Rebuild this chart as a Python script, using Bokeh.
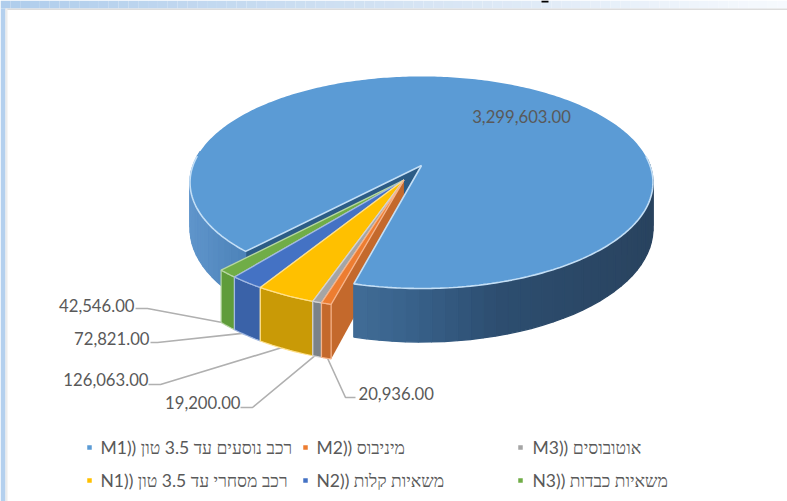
import math
from bokeh.plotting import figure
from bokeh.models import Range1d
from bokeh.core.properties import value
from bokeh.embed import file_html
from bokeh.resources import INLINE

# ---- data
categories = ["M1", "M2", "M3", "N1", "N2", "N3"]
legend_names = ["רכב נוסעים עד 3.5 טון ((M1", "מיניבוס ((M2", "אוטובוסים ((M3",
                "רכב מסחרי עד 3.5 טון ((N1", "משאיות קלות ((N2", "משאיות כבדות ((N3"]
values = [3299603, 20936, 19200, 126063, 72821, 42546]
value_labels = ["3,299,603.00", "20,936.00", "19,200.00", "126,063.00", "72,821.00", "42,546.00"]

# ---- style
top_colors = ["#5b9bd5", "#ed7d31", "#a5a5a5", "#ffc000", "#4472c4", "#70ad47"]
rim_colors = ["#c4dff6", "#f6b48a", "#d2d2d2", "#ffe08a", "#a2b9e2", "#b7d6a3"]
side_colors = [None, "#c4692c", "#7b8288", "#c99a06", "#3a62a8", "#5f9c3a"]
TEXT = "#595959"
FONT = "Lato"

# ---- layout of the 3D projection
CX, CY, A, B, C, DEPTH = 421.0, 165.0, 228.5, 103.3, 0.16, 45.0
START = 42.8          # degrees clockwise from the front where M1 begins
EXPLODE = 0.157


def proj(u, v, drop=0.0):
    w = 1 - C * v
    return CX + A * u / w, CY + B * v / w + drop * DEPTH / w


def disk(phi):
    r = math.radians(phi)
    return -math.sin(r), math.cos(r)


def shade(stops, t):
    if t <= stops[0][0]:
        return stops[0][1]
    for (a, ca), (b, cb) in zip(stops, stops[1:]):
        if a <= t <= b:
            f = (t - a) / (b - a)
            rgb = [round(int(ca[i:i + 2], 16) * (1 - f) + int(cb[i:i + 2], 16) * f) for i in (1, 3, 5)]
            return "#%02x%02x%02x" % tuple(rgb)
    return stops[-1][1]


total = sum(values)
spans = [x / total * 360 for x in values]
bounds = [START]
for s in spans:
    bounds.append(bounds[-1] + s)

p = figure(width=787, height=501, output_backend="svg", toolbar_location=None,
           x_range=Range1d(0, 787), y_range=Range1d(501, 0), min_border=0,
           outline_line_color=None, background_fill_color="white",
           border_fill_color="white")
p.xaxis.visible = False
p.yaxis.visible = False
p.grid.visible = False

# ---- window frame behind the chart
n = 80
xs = [787 * i / n for i in range(n + 1)]
p.quad(left=xs[:-1], right=xs[1:], top=[0] * n, bottom=[8] * n, line_color=None,
       fill_color=[shade([(0, "#afcdec"), (0.5, "#d4e3f3"), (1, "#f7fafe")], i / n) for i in range(n)])
p.quad(left=[0], right=[5], top=[8], bottom=[501], fill_color="#b4d0ee", line_color=None)
p.quad(left=[5], right=[787], top=[8], bottom=[9.5], fill_color="#dcdcdc", line_color=None)
p.quad(left=[5], right=[7], top=[8], bottom=[501], fill_color="#ececec", line_color=None)
p.quad(left=[541], right=[548], top=[0], bottom=[2], fill_color="black", line_color=None)

# ---- main slice cut wall on the left of the slit
s0, e0 = bounds[0], bounds[1]
ua, va = disk(s0)
pts = [proj(0, 0), proj(ua, va), proj(ua, va, 1), proj(0, 0, 1)]
p.patch([q[0] for q in pts], [q[1] for q in pts], fill_color="#2c5c86", line_color=None)

# ---- exploded group offset
mid_small = (bounds[1] + bounds[-1]) / 2
ou, ov = disk(mid_small)
ou, ov = ou * EXPLODE, ov * EXPLODE


def small(phi, drop=0.0):
    u, v = disk(phi)
    return proj(u + ou, v + ov, drop)


# ---- wall of M2 facing the main slice
a0 = small(bounds[1])
a1 = small(bounds[1], 1)
apex, apexd = proj(ou, ov), proj(ou, ov, 1)
px = [apex[0], a0[0], a1[0], apexd[0]]
py = [apex[1], a0[1], a1[1], apexd[1]]
p.patch(px, py, fill_color=side_colors[1], line_color=None)

# ---- main slice outer wall (front part only: the back is hidden by the top)
VIS_L, VIS_R = 96, 264
qx, qy, qc = [], [], []
steps = 120
for i in range(steps):
    a = s0 + (e0 - s0) * i / steps
    b = s0 + (e0 - s0) * (i + 1) / steps
    if VIS_L < a < VIS_R:
        continue
    ub, vb = disk(b)
    un, vn = disk(a)
    q = [proj(un, vn), proj(ub, vb), proj(ub, vb, 1), proj(un, vn, 1)]
    qx.append([t[0] for t in q])
    qy.append([t[1] for t in q])
    x_here = q[0][0]
    if a < 180:
        qc.append(shade([(190, "#5f95cb"), (250, "#4c82b8")], x_here))
    else:
        qc.append(shade([(350, "#426e98"), (420, "#38618a"), (500, "#2d4e70"), (653, "#29435f")], x_here))
p.patches(qx, qy, fill_color=qc, line_color=qc, line_width=1.3)

# ---- main slice top
arc = [disk(s0 + (e0 - s0) * i / 360) for i in range(361)]
top = [proj(0, 0)] + [proj(u, v) for u, v in arc]
p.patch([t[0] for t in top], [t[1] for t in top], fill_color=top_colors[0], line_color=None)
# light bevel only where the top meets a visible wall
angles = [s0 + (e0 - s0) * i / 360 for i in range(361)]
bevel_l = [t for t, ang in zip(top[1:], angles) if ang <= VIS_L]
bevel_r = [t for t, ang in zip(top[1:], angles) if ang >= VIS_R]
p.line([top[0][0]] + [t[0] for t in bevel_l], [top[0][1]] + [t[1] for t in bevel_l],
       line_color=rim_colors[0], line_width=1.6)
p.line([t[0] for t in bevel_r] + [top[0][0]], [t[1] for t in bevel_r] + [top[0][1]],
       line_color=rim_colors[0], line_width=1.6)

# ---- leader lines (from each slice's wall to the label's elbow)
elbows = {1: [(345, 397), (355, 397)], 2: [(252, 407), (240, 407)], 3: [(160, 384), (148, 384)],
          4: [(157, 342), (150, 342)], 5: [(147, 308), (135, 308)]}
for i, tail in elbows.items():
    m = (bounds[i] + bounds[i + 1]) / 2
    st = small(m, 0.95)
    p.line([st[0]] + [t[0] for t in tail], [st[1]] + [t[1] for t in tail],
           line_color="#b0b0b0", line_width=1.6)

# ---- small slices
for i in range(5, 0, -1):
    a, b = bounds[i], bounds[i + 1]
    arc_pts = [a + (b - a) * k / 12 for k in range(13)]
    wall = [small(t) for t in arc_pts] + [small(t, 1) for t in reversed(arc_pts)]
    p.patch([t[0] for t in wall], [t[1] for t in wall], fill_color=side_colors[i],
            line_color=rim_colors[i], line_width=1.2)
    face = [apex] + [small(t) for t in arc_pts]
    p.patch([t[0] for t in face], [t[1] for t in face], fill_color=top_colors[i],
            line_color=rim_colors[i], line_width=1.3)

# ---- value labels
lab_x = [521, 358, 240, 148, 149, 134]
lab_y = [116, 393, 402, 379, 338, 305]
lab_align = ["center", "left", "right", "right", "right", "right"]
for x, y, t, al in zip(lab_x, lab_y, value_labels, lab_align):
    p.text([x], [y], text=[t], text_font=value(FONT), text_font_size="16.7px", text_color=TEXT,
           text_align=al, text_baseline="middle")

# ---- legend
leg_mark_x = [89, 305, 520, 89, 305, 520]
leg_y = [447, 447, 447, 480, 480, 480]
leg_text_x = [100, 316, 532, 100, 316, 532]
p.scatter(leg_mark_x, leg_y, marker="square", size=4.5, fill_color=top_colors, line_color=None)
for x, y, t in zip(leg_text_x, leg_y, legend_names):
    p.text([x], [y], text=["\u202b" + t + "\u202c"], text_font=value(FONT), text_font_size="17.5px",
           text_color=TEXT, text_align="left", text_baseline="middle")

open("out.html", "w").write(file_html(p, INLINE))
